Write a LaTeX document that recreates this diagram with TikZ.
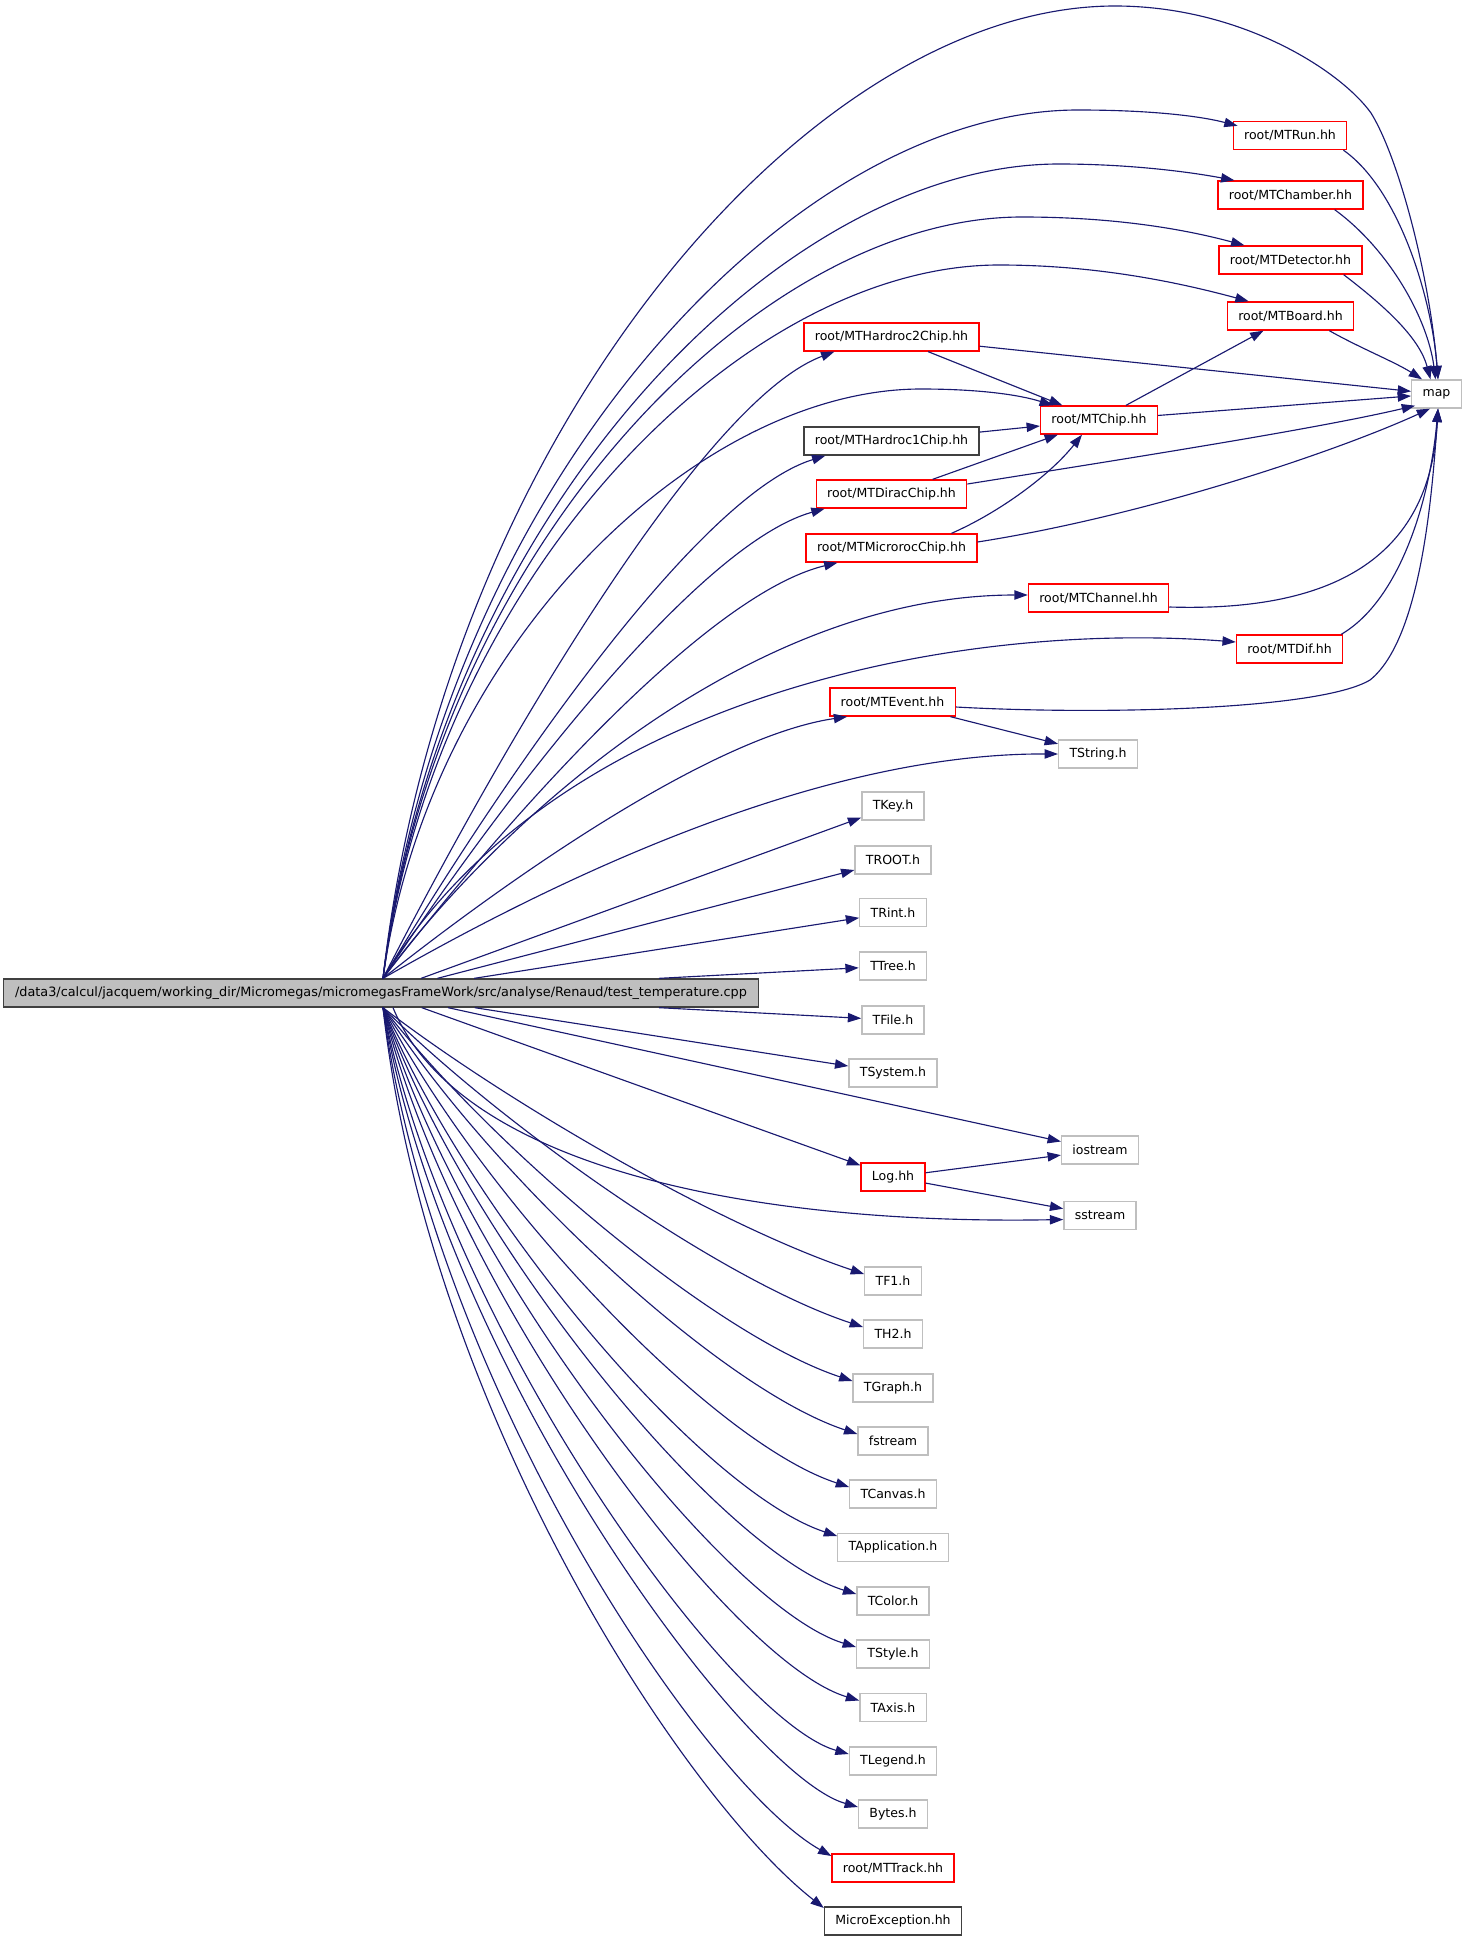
\documentclass[tikz,border=0pt]{standalone}
\usepackage{fontspec}
\setmainfont{DejaVu Sans}
\usetikzlibrary{arrows.meta,calc}
\definecolor{edgec}{HTML}{191970}
\definecolor{redb}{HTML}{FF0000}
\definecolor{greyb}{HTML}{BFBFBF}
\definecolor{blackb}{HTML}{404040}
\begin{document}
\begin{tikzpicture}[x=0.75pt,y=-0.75pt,
  box/.style={font=\fontsize{9.4}{11}\selectfont, inner xsep=8.15pt, inner ysep=0pt,
    minimum height=21pt, line width=1pt, fill=white, anchor=center},
  hdr/.style={box, draw=redb},
  ext/.style={box, draw=greyb},
  doc/.style={box, draw=blackb},
  mainbox/.style={box, draw=blackb, fill=greyb, inner xsep=8.9pt, font=\fontsize{9.62}{11}\selectfont},
  e/.style={draw=edgec, line width=0.85pt, -{Triangle[length=10pt,width=7pt]}}]
\useasboundingbox (0,0) rectangle (1469,1941);

% nodes
\node[mainbox] (m) at (381,993) {/data3/calcul/jacquem/working\_dir/Micromegas/micromegasFrameWork/src/analyse/Renaud/test\_temperature.cpp};
\node[hdr] (run) at (1290,135.5) {root/MTRun.hh};
\node[hdr] (chamber) at (1290.5,195) {root/MTChamber.hh};
\node[hdr] (detector) at (1290.5,260) {root/MTDetector.hh};
\node[hdr] (board) at (1290.5,316) {root/MTBoard.hh};
\node[ext] (map) at (1436.5,394) {map};
\node[hdr] (h2) at (891.5,337) {root/MTHardroc2Chip.hh};
\node[hdr] (chip) at (1099,420) {root/MTChip.hh};
\node[doc] (h1) at (891.5,441) {root/MTHardroc1Chip.hh};
\node[hdr] (dirac) at (891.5,494) {root/MTDiracChip.hh};
\node[hdr] (micro) at (891.5,548) {root/MTMicrorocChip.hh};
\node[hdr] (channel) at (1098.5,598) {root/MTChannel.hh};
\node[hdr] (dif) at (1289.5,649) {root/MTDif.hh};
\node[hdr] (event) at (892.5,702) {root/MTEvent.hh};
\node[ext] (tstring) at (1098,754) {TString.h};
\node[ext] (tkey) at (893,806) {TKey.h};
\node[ext] (troot) at (893,860) {TROOT.h};
\node[ext] (trint) at (893,912.5) {TRint.h};
\node[ext] (ttree) at (893,966) {TTree.h};
\node[ext] (tfile) at (893,1020) {TFile.h};
\node[ext] (tsystem) at (893,1073) {TSystem.h};
\node[ext] (iostream) at (1100,1150) {iostream};
\node[hdr] (log) at (893,1177) {Log.hh};
\node[ext] (sstream) at (1100,1215.5) {sstream};
\node[ext] (tf1) at (893,1281) {TF1.h};
\node[ext] (th2) at (893,1334) {TH2.h};
\node[ext] (tgraph) at (893,1388) {TGraph.h};
\node[ext] (fstream) at (893,1441) {fstream};
\node[ext] (tcanvas) at (893,1494) {TCanvas.h};
\node[ext] (tapp) at (893,1547.5) {TApplication.h};
\node[ext] (tcolor) at (893,1601) {TColor.h};
\node[ext] (tstyle) at (893,1654) {TStyle.h};
\node[ext] (taxis) at (893,1707.5) {TAxis.h};
\node[ext] (tlegend) at (893,1761) {TLegend.h};
\node[ext] (bytes) at (893,1814) {Bytes.h};
\node[hdr] (track) at (893,1868) {root/MTTrack.hh};
\node[doc] (mexc) at (893,1921) {MicroException.hh};

\coordinate (mt) at ($(m.north)+(2,0)$);
\coordinate (mb) at ($(m.south)+(2,0)$);

% upper arcs from main
\draw[e] (mt) .. controls (445,430) and (810,6) .. (1115,6)
  .. controls (1240,6) and (1340,70) .. (1371,113)
  .. controls (1400,160) and (1430,280) .. ($(map.north)+(1.5,0)$);
\draw[e] (mt) .. controls (442,489) and (788,110) .. (1078,110)
  .. controls (1150,110) and (1200,116) .. ($(run.north west)+(5,5)$);
\draw[e] (mt) .. controls (440.5,519.3) and (777,164) .. (1059,164)
  .. controls (1130,164) and (1190,172) .. ($(chamber.north west)+(17,0)$);
\draw[e] (mt) .. controls (437.3,549.2) and (755.5,217) .. (1022,217)
  .. controls (1110,217) and (1180,228) .. ($(detector.north west)+(26,0)$);
\draw[e] (mt) .. controls (435.4,576.3) and (742,265) .. (999,265)
  .. controls (1090,265) and (1170,280) .. ($(board.north west)+(22,0)$);
\draw[e] (mt) .. controls (428.7,646.2) and (696.7,389) .. (921,389)
  .. controls (980,389) and (1020,395) .. ($(chip.north west)+(13,0)$);
\draw[e] (mt) .. controls (510,730) and (705,400) .. ($(h2.south west)+(31,0)$);
\draw[e] (mt) .. controls (507.5,771) and (698.4,495.1) .. ($(h1.south west)+(22,0)$);
\draw[e] (mt) .. controls (507.5,792) and (698.4,544.1) .. ($(dirac.south west)+(9,0)$);
\draw[e] (mt) .. controls (510.9,813.5) and (707,594) .. ($(micro.south west)+(32,0)$);
\draw[e] (mt) .. controls (500,820) and (750,595) .. ($(channel.west)+(0,-3)$);
\draw[e] (mt) .. controls (550,700) and (950,620) .. ($(dif.west)+(0,-7)$);
\draw[e] (mt) .. controls (513.7,874.6) and (714,736.1) .. ($(event.south west)+(18,0)$);
\draw[e] (mt) .. controls (520,900) and (800,753) .. (tstring.west);

% straight edges from main
\draw[e] (m) -- (tkey);
\draw[e] (m) -- (troot);
\draw[e] (m) -- (trint);
\draw[e] (m) -- (ttree);
\draw[e] (m) -- (tfile);
\draw[e] (m) -- (tsystem);
\draw[e] (m) -- (iostream);
\draw[e] (m) -- (log);
\draw[e] ($(mb)+(10,0)$) .. controls (460,1170) and (760,1225) .. ($(sstream.west)+(0,4)$);

% lower fan
\draw[e] (mb) .. controls (503.5,1100.5) and (720.4,1226.3) .. ($(tf1.west)+(0,-7)$);
\draw[e] (mb) .. controls (497,1121.7) and (719,1279.5) .. ($(th2.west)+(0,-7)$);
\draw[e] (mb) .. controls (488.8,1144.1) and (712,1334.5) .. ($(tgraph.west)+(0,-7)$);
\draw[e] (mb) .. controls (483.9,1167.1) and (715.5,1387) .. ($(fstream.west)+(0,-7)$);
\draw[e] (mb) .. controls (476,1191) and (708.5,1441) .. ($(tcanvas.west)+(0,-7)$);
\draw[e] (mb) .. controls (468.1,1214.2) and (700.8,1491) .. ($(tapp.west)+(0,-11.5)$);
\draw[e] (mb) .. controls (465.8,1241.8) and (720,1552) .. ($(tcolor.west)+(0,-7)$);
\draw[e] (mb) .. controls (460,1268.3) and (725,1607) .. ($(tstyle.west)+(0,-7)$);
\draw[e] (mb) .. controls (454.4,1296) and (730,1662) .. ($(taxis.west)+(0,-7)$);
\draw[e] (mb) .. controls (447.1,1330) and (730,1720) .. ($(tlegend.west)+(0,-7)$);
\draw[e] (mb) .. controls (442.5,1365) and (745,1775) .. ($(bytes.west)+(0,-7)$);
\draw[e] (mb) .. controls (433.5,1385) and (705,1785) .. ($(track.west)+(0,-12)$);
\draw[e] (mb) .. controls (427.1,1405) and (680,1795) .. ($(mexc.west)+(0,-13)$);

% edges between headers
\draw[e] ($(run.south east)+(-4,0)$) .. controls (1400,190) and (1432,300) .. ($(map.north)+(1.5,0)$);
\draw[e] ($(chamber.south east)+(-29,0)$) .. controls (1390,250) and (1428,320) .. ($(map.north)+(-1,0)$);
\draw[e] ($(detector.south east)+(-19,0)$) .. controls (1390,310) and (1420,340) .. ($(map.north)+(-6,0)$);
\draw[e] ($(board.south east)+(-25,0)$) .. controls (1360,348) and (1395,362) .. ($(map.north west)+(11,0)$);
\draw[e] (h2) -- (map);
\draw[e] (h2) -- (chip);
\draw[e] (chip) -- (board);
\draw[e] (chip) -- (map);
\draw[e] (h1) -- (chip);
\draw[e] (dirac) -- (chip);
\draw[e] ($(dirac.east)+(0,-10)$) .. controls (1150,455) and (1320,428) .. ($(map.south west)+(4,-3)$);
\draw[e] ($(micro.north)+(60,0)$) .. controls (1000,512) and (1050,475) .. ($(chip.south)+(-17,0)$);
\draw[e] ($(micro.east)+(0,-6)$) .. controls (1150,515) and (1340,450) .. ($(map.south west)+(19,0)$);
\draw[e] ($(channel.east)+(0,9)$) .. controls (1330,612) and (1430,560) .. ($(map.south)+(1.5,0)$);
\draw[e] ($(dif.north east)+(-2,0)$) .. controls (1400,600) and (1430,500) .. ($(map.south)+(1.5,0)$);
\draw[e] ($(event.east)+(0,5)$) .. controls (1100,715) and (1320,710) .. (1370,680)
  .. controls (1420,640) and (1432,500) .. ($(map.south)+(1.5,0)$);
\draw[e] (event) -- (tstring);
\draw[e] (log) -- (iostream);
\draw[e] (log) -- (sstream);
\end{tikzpicture}
\end{document}
